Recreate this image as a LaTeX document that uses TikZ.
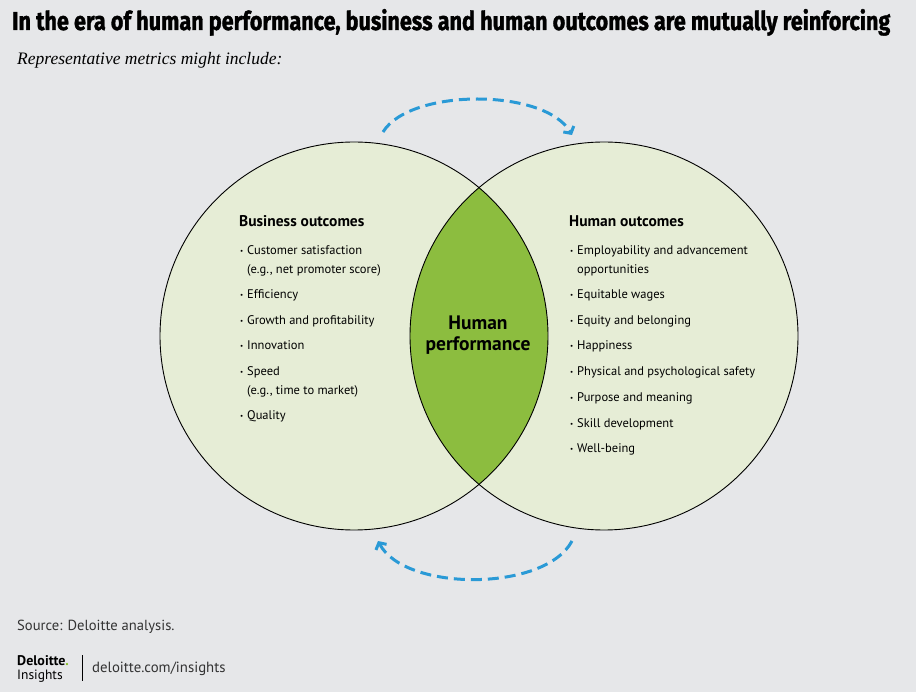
\documentclass[tikz,border=0pt]{standalone}
\usepackage{fontspec}
\setmainfont{PT Sans}
\newfontfamily\titlefont{Fira Sans}[BoldFeatures={FakeBold=1.5}]
\newfontfamily\subfont{Liberation Serif}
\usetikzlibrary{positioning}
\usetikzlibrary{arrows.meta}

\definecolor{bggray}{HTML}{E6E7E9}
\definecolor{palegreen}{HTML}{E6EDD6}
\definecolor{lensgreen}{HTML}{8CBD3F}
\definecolor{flowblue}{HTML}{2A9AD6}
\definecolor{srcgray}{HTML}{333333}
\definecolor{dotgreen}{HTML}{86BC25}

\newcommand{\itm}{\makebox[7pt][l]{\raisebox{0.2ex}{\scriptsize•}}}

\begin{document}
\begin{tikzpicture}[x=1pt,y=-1pt,
  item/.style={anchor=base west,inner sep=0pt,align=left,font=\fontsize{12.5}{19}\selectfont},
  head/.style={anchor=base west,inner sep=0pt,font=\fontsize{15.5}{16}\selectfont\bfseries},
  ring/.style={draw=black,line width=0.9pt},
  flow/.style={flowblue,line width=3pt,dash pattern=on 11pt off 6pt,-{Straight Barb[length=5pt,width=12pt]}}]
  \fill[bggray] (0,0) rectangle (916,692);
  \useasboundingbox (0,0) rectangle (916,692);
  \node[anchor=base west,inner sep=0pt] (title) at (12,30){\resizebox{878pt}{21pt}{\titlefont\bfseries In the era of human performance, business and human outcomes are mutually reinforcing}};
  \node[anchor=base west,inner sep=0pt,font=\subfont\itshape\fontsize{17.5}{18}\selectfont] (sub) at (17,65){Representative metrics might include:};
  % circles
  \coordinate (lc) at (354,336);
  \coordinate (rc) at (604,336);
  \fill[palegreen] (lc) circle (194pt);
  \fill[palegreen] (rc) circle (194pt);
  \begin{scope}
    \clip (lc) circle (194pt);
    \fill[lensgreen] (rc) circle (194pt);
  \end{scope}
  \draw[ring] (lc) circle (194pt);
  \draw[ring] (rc) circle (194pt);
  % arrows
  \coordinate (ta) at (383,132);
  \coordinate (tb) at (572,135);
  \coordinate (ba) at (572,541);
  \coordinate (bb) at (378,541);
  \draw[flow] (ta) .. controls (410,88) and (545,88) .. (tb);
  \draw[flow] (ba) .. controls (545,592) and (405,592) .. (bb);
  % left
  \node[head] (bhead) at (239,227){Business outcomes};
  \node[item] (b1) at (240,274){\itm Customer satisfaction\\\hspace*{7pt}(e.g., net promoter score)};
  \node[item] (b2) at (240,299){\itm Efficiency};
  \node[item] (b3) at (240,325){\itm Growth and profitability};
  \node[item] (b4) at (240,350){\itm Innovation};
  \node[item] (b5) at (240,395){\itm Speed\\\hspace*{7pt}(e.g., time to market)};
  \node[item] (b6) at (240,420){\itm Quality};
  % middle
  \node[inner sep=0pt,align=center,font=\fontsize{19.5}{21}\selectfont\bfseries] (hp) at (478,335){Human\\performance};
  % right
  \node[head] (hhead) at (569,227){Human outcomes};
  \node[item] (h1) at (570,274){\itm Employability and advancement\\\hspace*{7pt}opportunities};
  \node[item] (h2) at (570,299){\itm Equitable wages};
  \node[item] (h3) at (570,325){\itm Equity and belonging};
  \node[item] (h4) at (570,350){\itm Happiness};
  \node[item] (h5) at (570,376){\itm Physical and psychological safety};
  \node[item] (h6) at (570,402){\itm Purpose and meaning};
  \node[item] (h7) at (570,428){\itm Skill development};
  \node[item] (h8) at (570,453){\itm Well-being};
  % footer
  \node[anchor=base west,inner sep=0pt,text=srcgray,font=\fontsize{14.6}{16}\selectfont] (src) at (17,630){Source: Deloitte analysis.};
  \node[anchor=base west,inner sep=0pt,font=\fontsize{14}{14}\selectfont\bfseries] (logo) at (17,665){Deloitte\textcolor{dotgreen}{.}};
  \node[anchor=base west,inner sep=0pt,font=\fontsize{13.5}{14}\selectfont] (ins) at (17,679){Insights};
  \coordinate (sepa) at (82,655);
  \coordinate (sepb) at (82,681);
  \draw[line width=0.8pt] (sepa) -- (sepb);
  \node[anchor=base west,inner sep=0pt,text=srcgray,font=\fontsize{14.8}{18}\selectfont] (url) at (92,672){deloitte.com/insights};
\end{tikzpicture}
\end{document}
